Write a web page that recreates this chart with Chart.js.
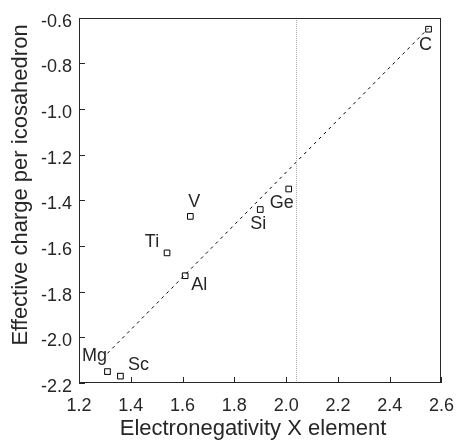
<!DOCTYPE html>
<html>
<head>
<meta charset="utf-8">
<script src="https://cdn.jsdelivr.net/npm/chart.js@4/dist/chart.umd.min.js"></script>
<style>
  html, body { margin: 0; padding: 0; background: #fff; }
  #wrap { width: 466px; height: 444px; }
</style>
</head>
<body>
<div id="wrap"><canvas id="myChart"></canvas></div>
<script>
    // ----------- DATA BLOCK ------------
    var elements = ['C', 'Ge', 'Si', 'V', 'Ti', 'Al', 'Mg', 'Sc'];
    var electroneg = [2.55, 2.01, 1.90, 1.63, 1.54, 1.61, 1.31, 1.36];
    var charge = [-0.65, -1.35, -1.44, -1.47, -1.63, -1.73, -2.15, -2.17];
    var crossed = ['Mg', 'Sc'];

    // fit line (dashed) and the boron reference line (dotted)
    var fitX = [1.31, 2.55];
    var fitY = [-2.07, -0.645];
    var refX = [2.04, 2.04];
    var refY = [-2.2, -0.6];

    var xTicks = [1.2, 1.4, 1.6, 1.8, 2.0, 2.2, 2.4, 2.6];
    var yTicks = [-2.2, -2.0, -1.8, -1.6, -1.4, -1.2, -1.0, -0.8, -0.6];

    // where the element names go, in pixels from the marker
    const labelOffsets = {
        C: [-3, 16], Ge: [-7, 14], Si: [-2, 15], V: [4, -14],
        Ti: [-15, -11], Al: [14, 9], Mg: [-13, -16], Sc: [18, -11]
    };

    const FONT = "'Liberation Sans', Arial, Helvetica, sans-serif";
    const INK = '#262626';

    function pts(xs, ys) {
        return xs.map((x, i) => ({x: x, y: ys[i]}));
    }

    var crossPts = [];
    elements.forEach((el, i) => {
        if (crossed.indexOf(el) >= 0) crossPts.push({x: electroneg[i], y: charge[i]});
    });

    // ----- PLUGIN: frame, inward ticks, names, axis titles --------
    const decor = {
        id: 'decor',
        afterDraw(chart) {
            const ctx = chart.ctx;
            const a = chart.chartArea;
            const xs = chart.scales.x, ys = chart.scales.y;
            ctx.save();
            ctx.strokeStyle = INK;
            ctx.lineWidth = 1;
            ctx.strokeRect(Math.round(a.left) + 0.5, Math.round(a.top) + 0.5,
                Math.round(a.right - a.left) - 1, Math.round(a.bottom - a.top) - 1);
            ctx.beginPath();
            xTicks.forEach(v => {
                const px = Math.round(xs.getPixelForValue(v)) + 0.5;
                ctx.moveTo(px, a.bottom);
                ctx.lineTo(px, a.bottom - 6);
            });
            yTicks.forEach(v => {
                const py = Math.round(ys.getPixelForValue(v)) + 0.5;
                ctx.moveTo(a.left, py);
                ctx.lineTo(a.left + 6, py);
            });
            ctx.stroke();

            // element names
            ctx.fillStyle = INK;
            ctx.font = '18px ' + FONT;
            ctx.textAlign = 'center';
            ctx.textBaseline = 'middle';
            elements.forEach((el, i) => {
                const px = xs.getPixelForValue(electroneg[i]);
                const py = ys.getPixelForValue(charge[i]);
                const o = labelOffsets[el];
                ctx.fillText(el, px + o[0], py + o[1]);
            });

            // axis titles
            ctx.font = '22px ' + FONT;
            ctx.fillText('Electronegativity X element', 253, 429);
            ctx.translate(21, 185);
            ctx.rotate(-Math.PI / 2);
            ctx.fillText('Effective charge per icosahedron', 0, 0);
            ctx.restore();
        }
    };

    // ----- CONFIGURATION BLOCK --------
    const config = {
        type: 'scatter',
        data: {
            datasets: [
                {
                    label: 'boron',
                    data: pts(refX, refY),
                    showLine: true,
                    borderColor: '#aaaaaa',
                    borderWidth: 1,
                    borderDash: [1, 1],
                    pointRadius: 0
                },
                {
                    label: 'fit',
                    data: pts(fitX, fitY),
                    showLine: true,
                    borderColor: '#000',
                    borderWidth: 1,
                    borderDash: [3, 4],
                    pointRadius: 0
                },
                {
                    label: 'elements',
                    data: pts(electroneg, charge),
                    pointStyle: 'rect',
                    pointRadius: 4,
                    borderColor: '#000',
                    backgroundColor: '#fff',
                    borderWidth: 1
                },
                {
                    label: 'crossed',
                    data: crossPts,
                    pointStyle: 'crossRot',
                    pointRadius: 4,
                    borderColor: '#000',
                    borderWidth: 1
                }
            ]
        },
        options: {
            responsive: true,
            maintainAspectRatio: false,
            animation: false,
            events: [],
            layout: {
                padding: {top: 13, right: 17, left: 0, bottom: 0}
            },
            scales: {
                x: {
                    type: 'linear',
                    min: 1.2,
                    max: 2.6,
                    afterFit: s => { s.height = 61; },
                    afterBuildTicks: s => { s.ticks = xTicks.map(v => ({value: v})); },
                    grid: {display: false, drawTicks: false},
                    border: {display: false},
                    ticks: {
                        padding: 12,
                        color: INK,
                        font: {size: 18, family: FONT},
                        maxRotation: 0,
                        callback: v => v.toFixed(1)
                    }
                },
                y: {
                    type: 'linear',
                    min: -2.2,
                    max: -0.6,
                    afterFit: s => { s.width = 79; },
                    afterBuildTicks: s => { s.ticks = yTicks.map(v => ({value: v})); },
                    grid: {display: false, drawTicks: false},
                    border: {display: false},
                    ticks: {
                        padding: 7,
                        labelOffset: 4,
                        color: INK,
                        font: {size: 18, family: FONT},
                        callback: v => v.toFixed(1)
                    }
                }
            },
            plugins: {
                legend: {display: false},
                tooltip: {enabled: false},
                title: {display: false}
            }
        },
        plugins: [decor]
    };

    // -------- RENDER BLOCK -------
    const myChart = new Chart(document.getElementById('myChart').getContext('2d'), config);
</script>
</body>
</html>
